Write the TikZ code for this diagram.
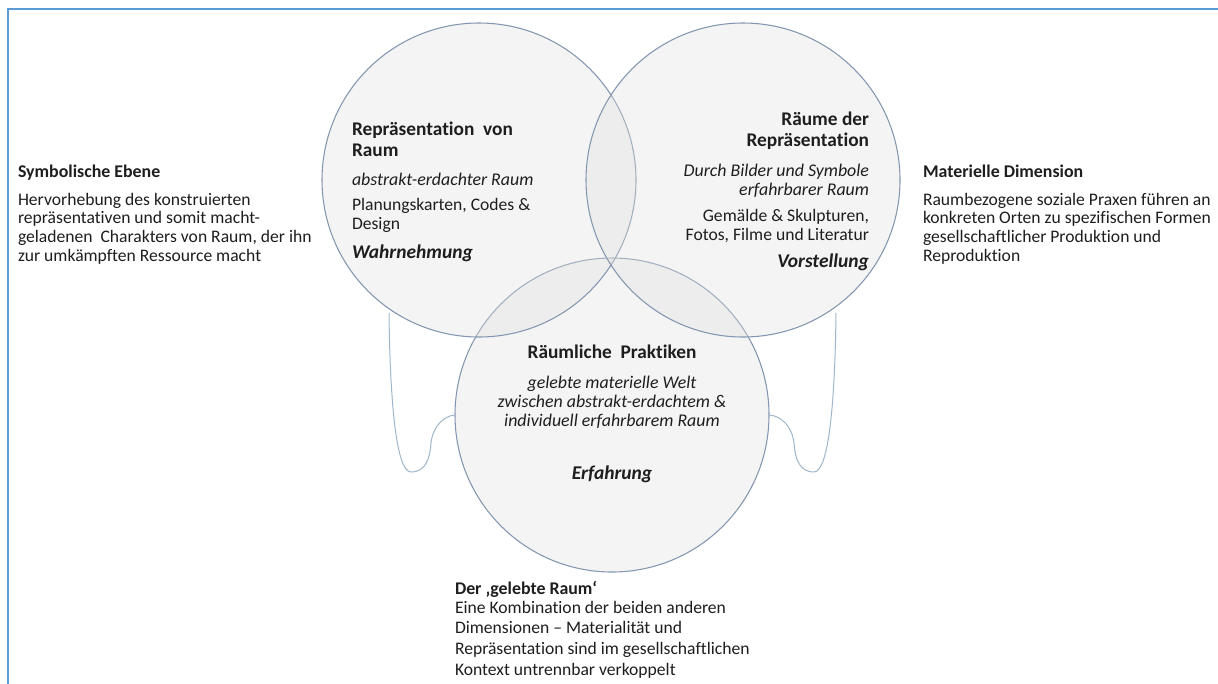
\documentclass[tikz,border=0pt]{standalone}
\usepackage{fontspec}
\setmainfont{Carlito}[Ligatures=NoCommon]
\definecolor{framecol}{HTML}{5B9BD5}
\definecolor{circstroke}{HTML}{8497B0}
\definecolor{circfill}{HTML}{E0E0E0}
\definecolor{bracecol}{HTML}{9FB7CC}
\definecolor{txtcol}{HTML}{1E1E1E}
\begin{document}
\begin{tikzpicture}[x=0.75pt,y=-0.75pt,
  venn/.style={circle, draw=circstroke, line width=0.8pt, fill=circfill, fill opacity=0.35, minimum size=235.5pt, inner sep=0pt},
  brace/.style={draw=bracecol, line width=0.75pt},
  blk/.style={inner sep=0pt, outer sep=0pt, text=txtcol},
  side/.style={blk, align=left, font=\fontsize{13.2}{14}\selectfont},
  sidehead/.style={blk, font=\bfseries\fontsize{13.4}{14}\selectfont},
  chead/.style={blk, font=\bfseries\fontsize{14.5}{16}\selectfont},
  cital/.style={blk, font=\itshape\fontsize{13.4}{14.1}\selectfont},
  cbody/.style={blk, font=\fontsize{13.2}{14.5}\selectfont},
  ckey/.style={blk, font=\bfseries\itshape\fontsize{14.6}{16}\selectfont}]
\useasboundingbox (0,0) rectangle (1218,683);
\fill[white] (0,0) rectangle (1218,683);
% frame (only top and left edges visible)
\draw[framecol, line width=1.6pt] (8,700) -- (8,9) -- (1230,9);

% circles
\node[venn] (c3) at (612,415) {};
\node[venn] (c1) at (479,180) {};
\node[venn] (c2) at (743,180) {};

% brace-like connectors
\coordinate (bl) at (389,313);
\coordinate (br) at (836,313);
\draw[brace] (bl) .. controls (390,400) and (396,472) .. (411,472)
  .. controls (426,472) and (430,458) .. (431,443)
  .. controls (433,426) and (444,416) .. (c3.west);
\draw[brace] (br) .. controls (835,400) and (829,472) .. (814,472)
  .. controls (799,472) and (795,458) .. (794,443)
  .. controls (792,426) and (781,416) .. (c3.east);

% left circle texts
\node[chead, anchor=north west, align=left] (t1h) at (352,122) {Repräsentation\ \ von\\Raum};
\node[cital, anchor=north west] (t1i) at (352,173) {abstrakt-erdachter Raum};
\node[cbody, anchor=north west, align=left] (t1b) at (352,198) {Planungskarten, Codes \&\\Design};
\node[ckey, anchor=north west] (t1k) at (352,245) {Wahrnehmung};

% right circle texts
\node[chead, anchor=north east, align=right] (t2h) at (869,112) {Räume der\\Repräsentation};
\node[cital, anchor=north east, align=right] (t2i) at (869,164) {Durch Bilder und Symbole\\erfahrbarer Raum};
\node[cbody, anchor=north east, align=right] (t2b) at (869,209) {Gemälde \& Skulpturen,\\Fotos, Filme und Literatur};
\node[ckey, anchor=north east] (t2k) at (869,254) {Vorstellung};

% bottom circle texts
\node[chead, anchor=north] (t3h) at (612,345) {Räumliche\ \ Praktiken};
\node[cital, anchor=north, align=center] (t3i) at (612,376) {gelebte materielle Welt\\zwischen abstrakt-erdachtem \&\\individuell erfahrbarem Raum};
\node[ckey, anchor=north] (t3k) at (612,466) {Erfahrung};

% side texts
\node[sidehead, anchor=north west] (lh) at (18,165) {Symbolische Ebene};
\node[side, anchor=north west] (lb) at (18,193) {Hervorhebung des konstruierten\\repräsentativen und somit macht-\\geladenen\ \ Charakters von Raum, der ihn\\zur umkämpften Ressource macht};

\node[sidehead, anchor=north west] (rh) at (923,165) {Materielle Dimension};
\node[side, anchor=north west] (rb) at (923,193) {Raumbezogene soziale Praxen führen an\\konkreten Orten zu spezifischen Formen\\gesellschaftlicher Produktion und\\Reproduktion};

\node[sidehead, anchor=north west] (bh) at (455,581) {Der ‚gelebte Raum‘};
\node[side, anchor=north west, font=\fontsize{13.2}{15.5}\selectfont] (bb) at (455,601) {Eine Kombination der beiden anderen\\Dimensionen – Materialität und\\Repräsentation sind im gesellschaftlichen\\Kontext untrennbar verkoppelt};
\end{tikzpicture}
\end{document}
